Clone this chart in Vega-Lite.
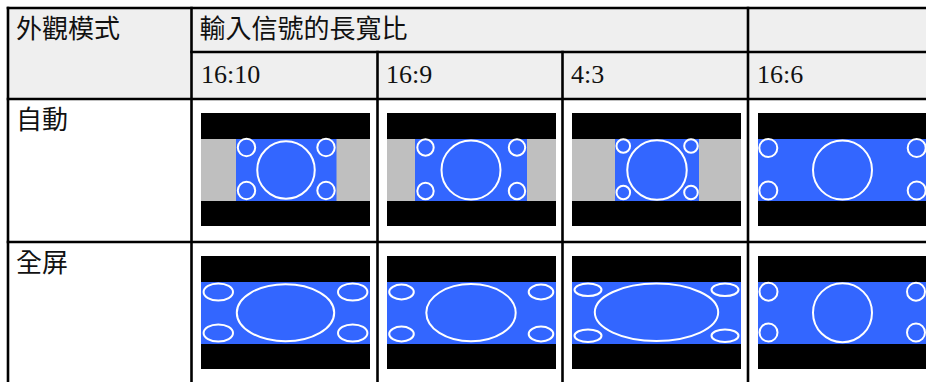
{
  "$schema": "https://vega.github.io/schema/vega-lite/v6.json",
  "width": 926,
  "height": 382,
  "autosize": {"type": "none"},
  "padding": 0,
  "background": "white",
  "config": {"view": {"stroke": null}},
  "datasets": {
    "bg": [
      {"area": "header", "x": 8, "x2": 926, "y": 8, "y2": 99}
    ],
    "frames": [
      {"mode": "自動", "ratio": "16:10", "part": "letterbox", "x": 201, "x2": 370, "y": 113, "y2": 226},
      {"mode": "自動", "ratio": "16:10", "part": "pillarbox", "x": 201, "x2": 370, "y": 139, "y2": 201},
      {"mode": "自動", "ratio": "16:10", "part": "picture", "x": 236, "x2": 336.5, "y": 139, "y2": 201},
      {"mode": "自動", "ratio": "16:9", "part": "letterbox", "x": 387, "x2": 556, "y": 113, "y2": 226},
      {"mode": "自動", "ratio": "16:9", "part": "pillarbox", "x": 387, "x2": 556, "y": 139, "y2": 201},
      {"mode": "自動", "ratio": "16:9", "part": "picture", "x": 415, "x2": 527, "y": 139, "y2": 201},
      {"mode": "自動", "ratio": "4:3", "part": "letterbox", "x": 572, "x2": 741, "y": 113, "y2": 226},
      {"mode": "自動", "ratio": "4:3", "part": "pillarbox", "x": 572, "x2": 741, "y": 139, "y2": 201},
      {"mode": "自動", "ratio": "4:3", "part": "picture", "x": 615, "x2": 699, "y": 139, "y2": 201},
      {"mode": "自動", "ratio": "16:6", "part": "letterbox", "x": 758, "x2": 927, "y": 113, "y2": 226},
      {"mode": "自動", "ratio": "16:6", "part": "picture", "x": 758, "x2": 927, "y": 139, "y2": 201},
      {"mode": "全屏", "ratio": "16:10", "part": "letterbox", "x": 201, "x2": 370, "y": 256, "y2": 369},
      {"mode": "全屏", "ratio": "16:10", "part": "picture", "x": 201, "x2": 370, "y": 282, "y2": 344},
      {"mode": "全屏", "ratio": "16:9", "part": "letterbox", "x": 387, "x2": 556, "y": 256, "y2": 369},
      {"mode": "全屏", "ratio": "16:9", "part": "picture", "x": 387, "x2": 556, "y": 282, "y2": 344},
      {"mode": "全屏", "ratio": "4:3", "part": "letterbox", "x": 572, "x2": 741, "y": 256, "y2": 369},
      {"mode": "全屏", "ratio": "4:3", "part": "picture", "x": 572, "x2": 741, "y": 282, "y2": 344},
      {"mode": "全屏", "ratio": "16:6", "part": "letterbox", "x": 758, "x2": 927, "y": 256, "y2": 369},
      {"mode": "全屏", "ratio": "16:6", "part": "picture", "x": 758, "x2": 927, "y": 282, "y2": 344}
    ],
    "rings": [
      {"mode": "自動", "ratio": "16:10", "x": 286, "y": 170, "d": 57.5, "form": "c"},
      {"mode": "自動", "ratio": "16:10", "x": 246.5, "y": 147.5, "d": 17.4, "form": "c"},
      {"mode": "自動", "ratio": "16:10", "x": 326, "y": 147.5, "d": 17.4, "form": "c"},
      {"mode": "自動", "ratio": "16:10", "x": 246.5, "y": 190.5, "d": 17.4, "form": "c"},
      {"mode": "自動", "ratio": "16:10", "x": 326, "y": 190.5, "d": 17.4, "form": "c"},
      {"mode": "自動", "ratio": "16:9", "x": 471, "y": 170, "d": 59, "form": "c"},
      {"mode": "自動", "ratio": "16:9", "x": 425.5, "y": 147.5, "d": 16.4, "form": "c"},
      {"mode": "自動", "ratio": "16:9", "x": 517, "y": 147.5, "d": 16.4, "form": "c"},
      {"mode": "自動", "ratio": "16:9", "x": 425.5, "y": 191, "d": 16.4, "form": "c"},
      {"mode": "自動", "ratio": "16:9", "x": 517, "y": 191, "d": 16.4, "form": "c"},
      {"mode": "自動", "ratio": "4:3", "x": 657, "y": 170, "d": 59.5, "form": "c"},
      {"mode": "自動", "ratio": "4:3", "x": 623.3, "y": 146, "d": 13.6, "form": "c"},
      {"mode": "自動", "ratio": "4:3", "x": 691, "y": 146, "d": 13.6, "form": "c"},
      {"mode": "自動", "ratio": "4:3", "x": 623.3, "y": 192.5, "d": 13.6, "form": "c"},
      {"mode": "自動", "ratio": "4:3", "x": 691, "y": 192.5, "d": 13.6, "form": "c"},
      {"mode": "自動", "ratio": "16:6", "x": 842.5, "y": 170, "d": 59, "form": "c"},
      {"mode": "自動", "ratio": "16:6", "x": 768.3, "y": 148, "d": 18, "form": "c"},
      {"mode": "自動", "ratio": "16:6", "x": 916.7, "y": 148, "d": 18, "form": "c"},
      {"mode": "自動", "ratio": "16:6", "x": 768.3, "y": 190.5, "d": 18, "form": "c"},
      {"mode": "自動", "ratio": "16:6", "x": 916.7, "y": 190.5, "d": 18, "form": "c"},
      {"mode": "全屏", "ratio": "16:10", "x": 285.5, "y": 312.7, "d": 97.4, "form": "e1610"},
      {"mode": "全屏", "ratio": "16:10", "x": 218.3, "y": 292, "d": 29.4, "form": "e1610"},
      {"mode": "全屏", "ratio": "16:10", "x": 352.7, "y": 292, "d": 29.4, "form": "e1610"},
      {"mode": "全屏", "ratio": "16:10", "x": 218.3, "y": 333, "d": 29.4, "form": "e1610"},
      {"mode": "全屏", "ratio": "16:10", "x": 352.7, "y": 333, "d": 29.4, "form": "e1610"},
      {"mode": "全屏", "ratio": "16:9", "x": 471, "y": 312.7, "d": 89.4, "form": "e169"},
      {"mode": "全屏", "ratio": "16:9", "x": 401.5, "y": 292, "d": 24.6, "form": "e169s"},
      {"mode": "全屏", "ratio": "16:9", "x": 541, "y": 292, "d": 24.6, "form": "e169s"},
      {"mode": "全屏", "ratio": "16:9", "x": 401.5, "y": 334, "d": 24.6, "form": "e169s"},
      {"mode": "全屏", "ratio": "16:9", "x": 541, "y": 334, "d": 24.6, "form": "e169s"},
      {"mode": "全屏", "ratio": "4:3", "x": 656.5, "y": 312.3, "d": 123.4, "form": "e43"},
      {"mode": "全屏", "ratio": "4:3", "x": 588, "y": 289.8, "d": 27, "form": "e43"},
      {"mode": "全屏", "ratio": "4:3", "x": 725, "y": 289.8, "d": 27, "form": "e43"},
      {"mode": "全屏", "ratio": "4:3", "x": 588, "y": 335.7, "d": 27, "form": "e43"},
      {"mode": "全屏", "ratio": "4:3", "x": 725, "y": 335.7, "d": 27, "form": "e43"},
      {"mode": "全屏", "ratio": "16:6", "x": 842.5, "y": 312.7, "d": 59, "form": "c"},
      {"mode": "全屏", "ratio": "16:6", "x": 768.5, "y": 291.7, "d": 18, "form": "c"},
      {"mode": "全屏", "ratio": "16:6", "x": 916, "y": 291.7, "d": 18, "form": "c"},
      {"mode": "全屏", "ratio": "16:6", "x": 768.5, "y": 332.5, "d": 18, "form": "c"},
      {"mode": "全屏", "ratio": "16:6", "x": 916, "y": 332.5, "d": 18, "form": "c"}
    ],
    "gridlines": [
      {"x": 8, "x2": 926, "y": 8, "y2": 8},
      {"x": 191.5, "x2": 926, "y": 52, "y2": 52},
      {"x": 8, "x2": 926, "y": 99, "y2": 99},
      {"x": 8, "x2": 926, "y": 242, "y2": 242},
      {"x": 8, "x2": 8, "y": 8, "y2": 382},
      {"x": 191.5, "x2": 191.5, "y": 8, "y2": 382},
      {"x": 377.5, "x2": 377.5, "y": 52, "y2": 382},
      {"x": 562.5, "x2": 562.5, "y": 52, "y2": 382},
      {"x": 748, "x2": 748, "y": 8, "y2": 382}
    ],
    "labels": [
      {"text": "外觀模式", "x": 16, "y": 37.5, "script": "cjk"},
      {"text": "輸入信號的長寬比", "x": 199.5, "y": 37.5, "script": "cjk"},
      {"text": "自動", "x": 16, "y": 129, "script": "cjk"},
      {"text": "全屏", "x": 16, "y": 272, "script": "cjk"},
      {"text": "16:10", "x": 201, "y": 83, "script": "latin"},
      {"text": "16:9", "x": 386, "y": 83, "script": "latin"},
      {"text": "4:3", "x": 571, "y": 83, "script": "latin"},
      {"text": "16:6", "x": 757, "y": 83, "script": "latin"}
    ]
  },
  "layer": [
    {
      "data": {"name": "bg"},
      "mark": {"type": "rect", "color": "#EFEFEF"},
      "encoding": {
        "x": {"field": "x", "type": "quantitative", "axis": null, "scale": {"domain": [0, 926], "nice": false, "zero": false}},
        "x2": {"field": "x2"},
        "y": {"field": "y", "type": "quantitative", "axis": null, "scale": {"domain": [0, 382], "nice": false, "zero": false, "reverse": true}},
        "y2": {"field": "y2"}
      }
    },
    {
      "data": {"name": "frames"},
      "mark": {"type": "rect"},
      "encoding": {
        "x": {"field": "x", "type": "quantitative", "axis": null, "scale": {"domain": [0, 926], "nice": false, "zero": false}},
        "x2": {"field": "x2"},
        "y": {"field": "y", "type": "quantitative", "axis": null, "scale": {"domain": [0, 382], "nice": false, "zero": false, "reverse": true}},
        "y2": {"field": "y2"},
        "color": {"field": "part", "type": "nominal", "legend": null, "scale": {"domain": ["letterbox", "pillarbox", "picture"], "range": ["#000000", "#BFBFBF", "#3366FF"]}}
      }
    },
    {
      "data": {"name": "rings"},
      "mark": {"type": "point", "filled": false, "stroke": "white", "strokeWidth": 2, "opacity": 1},
      "encoding": {
        "x": {"field": "x", "type": "quantitative", "axis": null, "scale": {"domain": [0, 926], "nice": false, "zero": false}},
        "y": {"field": "y", "type": "quantitative", "axis": null, "scale": {"domain": [0, 382], "nice": false, "zero": false, "reverse": true}},
        "size": {"field": "d", "type": "quantitative", "legend": null, "scale": {"type": "pow", "exponent": 2, "domain": [0, 150], "range": [0, 22500]}},
        "shape": {"field": "form", "type": "nominal", "legend": null, "scale": {
          "domain": ["c", "e1610", "e169", "e169s", "e43"],
          "range": [
            "M-1,0C-1,-0.5523,-0.5523,-1,0,-1C0.5523,-1,1,-0.5523,1,0C1,0.5523,0.5523,1,0,1C-0.5523,1,-1,0.5523,-1,0Z",
            "M-1,0C-1,-0.3231,-0.5523,-0.585,0,-0.585C0.5523,-0.585,1,-0.3231,1,0C1,0.3231,0.5523,0.585,0,0.585C-0.5523,0.585,-1,0.3231,-1,0Z",
            "M-1,0C-1,-0.3535,-0.5523,-0.64,0,-0.64C0.5523,-0.64,1,-0.3535,1,0C1,0.3535,0.5523,0.64,0,0.64C-0.5523,0.64,-1,0.3535,-1,0Z",
            "M-1,0C-1,-0.3314,-0.5523,-0.6,0,-0.6C0.5523,-0.6,1,-0.3314,1,0C1,0.3314,0.5523,0.6,0,0.6C-0.5523,0.6,-1,0.3314,-1,0Z",
            "M-1,0C-1,-0.2568,-0.5523,-0.465,0,-0.465C0.5523,-0.465,1,-0.2568,1,0C1,0.2568,0.5523,0.465,0,0.465C-0.5523,0.465,-1,0.2568,-1,0Z"
          ]
        }}
      }
    },
    {
      "data": {"name": "gridlines"},
      "mark": {"type": "rule", "color": "#000000", "strokeWidth": 2.6, "strokeCap": "square"},
      "encoding": {
        "x": {"field": "x", "type": "quantitative", "axis": null, "scale": {"domain": [0, 926], "nice": false, "zero": false}},
        "x2": {"field": "x2"},
        "y": {"field": "y", "type": "quantitative", "axis": null, "scale": {"domain": [0, 382], "nice": false, "zero": false, "reverse": true}},
        "y2": {"field": "y2"}
      }
    },
    {
      "data": {"name": "labels"},
      "transform": [{"filter": "datum.script === 'cjk'"}],
      "mark": {"type": "text", "align": "left", "baseline": "alphabetic", "font": "Noto Sans CJK TC", "fontSize": 26, "color": "#111111"},
      "encoding": {
        "x": {"field": "x", "type": "quantitative", "axis": null, "scale": {"domain": [0, 926], "nice": false, "zero": false}},
        "y": {"field": "y", "type": "quantitative", "axis": null, "scale": {"domain": [0, 382], "nice": false, "zero": false, "reverse": true}},
        "text": {"field": "text"}
      }
    },
    {
      "data": {"name": "labels"},
      "transform": [{"filter": "datum.script === 'latin'"}],
      "mark": {"type": "text", "align": "left", "baseline": "alphabetic", "font": "Liberation Serif", "fontSize": 26, "color": "#111111"},
      "encoding": {
        "x": {"field": "x", "type": "quantitative", "axis": null, "scale": {"domain": [0, 926], "nice": false, "zero": false}},
        "y": {"field": "y", "type": "quantitative", "axis": null, "scale": {"domain": [0, 382], "nice": false, "zero": false, "reverse": true}},
        "text": {"field": "text"}
      }
    }
  ]
}
